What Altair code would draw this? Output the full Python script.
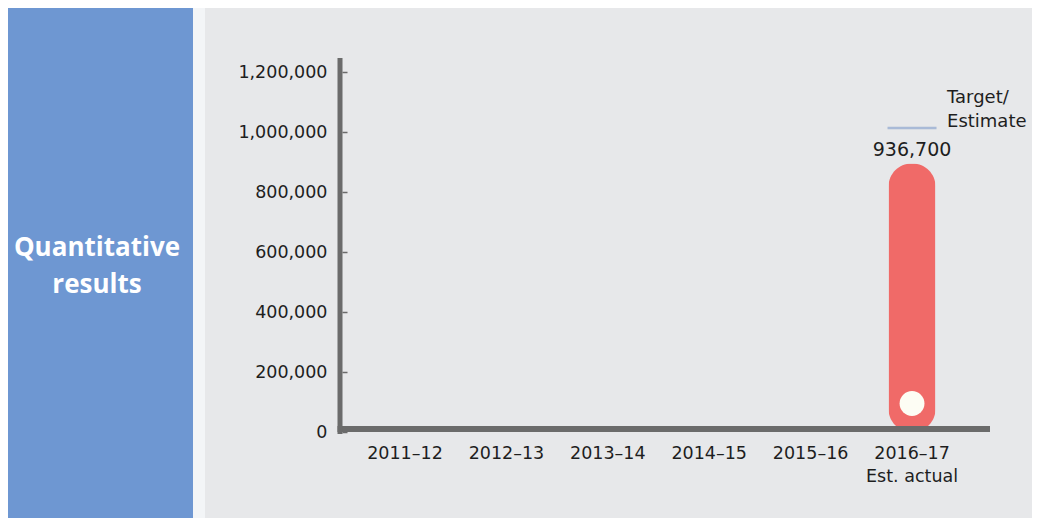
import altair as alt
import pandas as pd

# ---- data ----
years = ["2011–12", "2012–13", "2013–14", "2014–15", "2015–16", "2016–17"]
bar_year = ["2016–17"]
bar_value = [895000]
bar_label = ["936,700"]
marker_value = [95000]
target_value = [1013000]
target_text = [["Target/", "Estimate"]]
y_ticks = [0, 200000, 400000, 600000, 800000, 1000000, 1200000]
panel_title = ["Quantitative", "results"]

FONT = "DejaVu Sans"
GRAY_LINE = "#6b6b6b"
TXT = "#1e1e1e"

bars = pd.DataFrame({"year": bar_year, "value": bar_value, "label": bar_label,
                     "marker": marker_value, "target": target_value})
bars["ttext"] = target_text
axis_df = pd.DataFrame({"year": years})
one = pd.DataFrame({"k": [0]})

xscale = alt.Scale(domain=years, paddingInner=0, paddingOuter=0.205, align=0.344)
yscale = alt.Scale(domain=[0, 1200000])

x_enc = alt.X("year:N", scale=xscale, sort=years,
              axis=alt.Axis(title=None, domain=False, ticks=False, labelAngle=0,
                            labelFont=FONT, labelFontSize=17.5, labelColor=TXT,
                            labelPadding=12, labelBaseline="top", labelLineHeight=23,
                            labelExpr="datum.label == '2016–17' ? ['2016–17', 'Est. actual'] : datum.label"))

# background panels
blue = alt.Chart(one).mark_rect(color="#6e97d2", clip=False).encode(
    x=alt.value(-332), x2=alt.value(-147), y=alt.value(-64), y2=alt.value(446))
gap = alt.Chart(one).mark_rect(color="#f3f5f7", clip=False).encode(
    x=alt.value(-147), x2=alt.value(-135), y=alt.value(-64), y2=alt.value(446))
title = alt.Chart(one).mark_text(font="Open Sans", fontSize=26, fontWeight="bold",
                                 color="white", align="center", baseline="middle",
                                 lineHeight=37, clip=False).encode(
    x=alt.value(-243), y=alt.value(176), text=alt.value(panel_title))

# axis carrier (labels for x, ticks and labels for y)
base_axis = alt.Chart(axis_df).mark_point(opacity=0).encode(
    x=x_enc,
    y=alt.Y("zero:Q", scale=yscale,
            axis=alt.Axis(title=None, domain=False, grid=False, values=y_ticks, format=",d",
                          offset=-7, tickSize=5, tickColor=GRAY_LINE, tickWidth=1.5,
                          labelPadding=15, labelFont=FONT, labelFontSize=17.5,
                          labelColor=TXT)),
).transform_calculate(zero="0")

bar = alt.Chart(bars).mark_bar(color="#f06a68", size=47, cornerRadius=23).encode(
    x=alt.X("year:N", scale=xscale, sort=years),
    y=alt.Y("value:Q", scale=yscale),
)
marker = alt.Chart(bars).mark_point(filled=True, color="#fdfdf4", opacity=1, size=620).encode(
    x=alt.X("year:N", scale=xscale, sort=years),
    y=alt.Y("marker:Q", scale=yscale),
)
label = alt.Chart(bars).mark_text(font=FONT, fontSize=19, color=TXT,
                                  baseline="bottom", dy=-4).encode(
    x=alt.X("year:N", scale=xscale, sort=years),
    y=alt.Y("value:Q", scale=yscale),
    text="label:N",
)
target = alt.Chart(bars).mark_tick(color="#8ea7cf", size=49, thickness=2.5).encode(
    x=alt.X("year:N", scale=xscale, sort=years),
    y=alt.Y("target:Q", scale=yscale),
)
target_lbl = alt.Chart(bars).mark_text(font=FONT, fontSize=18, color=TXT,
                                       align="left", baseline="bottom", dx=35, dy=-21,
                                       lineHeight=24, clip=False).encode(
    x=alt.X("year:N", scale=xscale, sort=years),
    y=alt.Y("target:Q", scale=yscale),
    text="ttext",
)

# frame lines
vline = alt.Chart(one).mark_rule(color=GRAY_LINE, strokeWidth=5, clip=False).encode(
    x=alt.value(0), y=alt.value(-14), y2=alt.value(362))
hline = alt.Chart(one).mark_rule(color=GRAY_LINE, strokeWidth=6, clip=False).encode(
    x=alt.value(-2.5), x2=alt.value(650), y=alt.value(357))

chart = alt.layer(blue, gap, title, base_axis, bar, marker, hline, vline, label,
                  target, target_lbl).properties(
    width=650, height=360,
    padding={"left": 332, "top": 64, "right": 42, "bottom": 86},
    autosize=alt.AutoSizeParams(type="none"),
    background="#e7e8ea",
).configure_view(stroke=None)

chart.save("out.html", embed_options={"renderer": "svg", "actions": False})
